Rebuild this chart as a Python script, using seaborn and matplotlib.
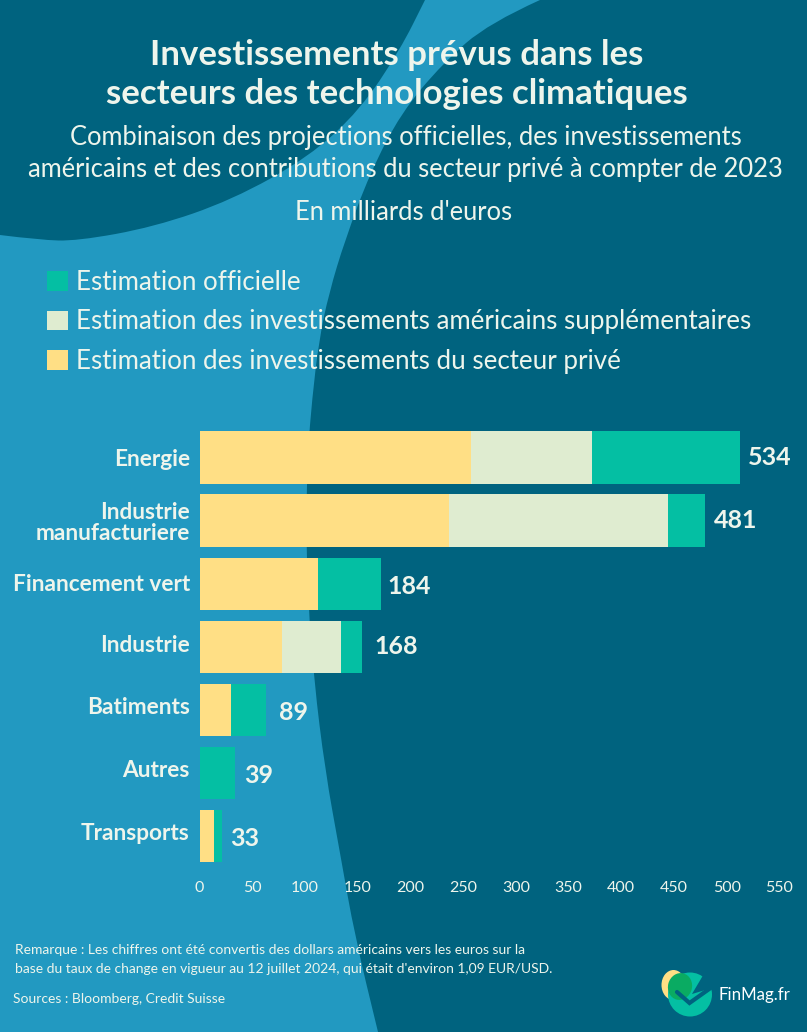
import numpy as np
import matplotlib
matplotlib.use('Agg')
import matplotlib.pyplot as plt
import seaborn as sns
from matplotlib.patches import Patch, PathPatch, Ellipse, Polygon
from matplotlib.path import Path
from matplotlib.transforms import ScaledTranslation

W, H = 807, 1032

categories = ['Energie', 'Industrie\nmanufacturiere', 'Financement vert', 'Industrie',
              'Batiments', 'Autres', 'Transports']
prive = [257, 237, 112, 78, 30, 0, 14]
americains = [115, 207, 0, 56, 0, 0, 0]
officielle = [141, 35, 60, 20, 33, 34, 7]
totals_labels = [534, 481, 184, 168, 89, 39, 33]
xticks = list(range(0, 551, 50))

DARK = '#00637F'
LIGHT = '#2299C1'
GREEN = '#04BFA3'
PALE = '#DFECD0'
YELLOW = '#FFDF85'
TEXT = '#EEF5EC'

sns.set_theme(style='white')
plt.rcParams['font.family'] = ['Lato', 'DejaVu Sans']

fig = plt.figure(figsize=(W / 100, H / 100), dpi=100, facecolor=DARK)


def smooth(pts):
    # quadratic curve through the midpoints of the outline
    pts = np.array(pts, dtype=float)
    verts = [pts[0]]
    codes = [Path.MOVETO]
    for a, b in zip(pts[1:-1], pts[2:]):
        verts += [a, (a + b) / 2]
        codes += [Path.CURVE3, Path.CURVE3]
    verts.append(pts[-1])
    codes.append(Path.LINETO)
    return verts, codes


# background shapes, in pixels
bg = fig.add_axes([0, 0, 1, 1], zorder=0)
bg.set_xlim(0, W)
bg.set_ylim(H, 0)
bg.axis('off')
right_edge = [(540, 0), (489, 23), (443, 63), (401, 113), (370, 173), (345, 240), (329, 293),
              (319, 340), (312, 400), (308, 450), (306, 520), (308, 600), (314, 680),
              (325, 770), (340, 853), (355, 937), (378, 1032)]
verts, codes = smooth(right_edge)
verts += [(0, H), (0, 235)]
codes += [Path.LINETO, Path.LINETO]
blob = [(0, 235), (40, 240), (77, 241), (154, 227), (232, 200), (309, 157), (360, 110), (400, 50), (425, 0)]
v2, c2 = smooth(blob)
verts += v2[1:] + [(540, 0), (540, 0)]
codes += c2[1:] + [Path.LINETO, Path.CLOSEPOLY]
bg.add_patch(PathPatch(Path(verts, codes), fc=LIGHT, ec='none'))

# logo
bg.add_patch(Ellipse((673.5, 985), 24, 30, fc=YELLOW, ec='none'))
bg.add_patch(Ellipse((690, 994.5), 44, 44, fc=GREEN, ec='none'))
bg.add_patch(Ellipse((680, 986.5), 24, 27, angle=15, fc='#0AAB62', ec='none'))
bg.add_patch(Polygon([(692, 994), (705, 972), (716, 972), (716, 986), (712, 988)], fc=DARK, ec='none'))
bg.plot([677, 689.5, 712], [992, 1003, 987], color=DARK, lw=3, solid_joinstyle='miter')
bg.text(718, 995, 'FinMag.fr', color='white', fontsize=12.2, va='center', ha='left', family='Lato')

# titles
title_kw = dict(color=TEXT, ha='center', va='center')
bg.text(397, 55, 'Investissements prévus dans les', fontsize=25, fontweight='bold', **title_kw)
bg.text(397, 94, 'secteurs des technologies climatiques', fontsize=25, fontweight='bold', **title_kw)
bg.text(405.5, 138, 'Combinaison des projections officielles, des investissements', fontsize=18.4, **title_kw)
bg.text(405.5, 170, 'américains et des contributions du secteur privé à compter de 2023', fontsize=18.4, **title_kw)
bg.text(404, 213, "En milliards d'euros", fontsize=18.4, **title_kw)

# chart area: 0 at px 199.5, 550 at px 779.5
left, right, top, bottom = 199.5, 779.5, 426, 867.5
ax = fig.add_axes([left / W, 1 - bottom / H, (right - left) / W, (bottom - top) / H], zorder=1)
ax.patch.set_alpha(0)

prive_a = np.array(prive)
am_a = np.array(americains)
off_a = np.array(officielle)
# stacked by drawing the cumulative totals, longest first
bar_kw = dict(y=categories, saturation=1, width=0.83, linewidth=0, edgecolor='none', ax=ax)
sns.barplot(x=prive_a + am_a + off_a, color=GREEN, **bar_kw)
sns.barplot(x=prive_a + am_a, color=PALE, **bar_kw)
sns.barplot(x=prive_a, color=YELLOW, **bar_kw)

ax.set_xlim(0, 550)
ax.set_ylim(6.5, -0.5)
ax.set_xticks(xticks)
ax.set_xlabel('')
ax.set_ylabel('')
sns.despine(ax=ax, left=True, bottom=True)
ax.tick_params(axis='x', length=0, pad=10, labelsize=11.5, labelcolor=TEXT)
ax.tick_params(axis='y', length=0, pad=7, labelsize=16.3, labelcolor=TEXT)

# category labels sit a little above the bar centre further down
label_dy = [0, 0, 1.5, 3, 4, 4.5, 4]
for lab, dy in zip(ax.get_yticklabels(), label_dy):
    lab.set_fontweight('bold')
    lab.set_linespacing(1.05)
    lab.set_transform(lab.get_transform() + ScaledTranslation(0, dy / 100, fig.dpi_scale_trans))

# totals, offsets in px
gap_x = [7, 9, 7, 13, 13, 8.5, 8.5]
gap_y = [0, 0, -2.5, 0, -3, -2.5, -3]
for i, val in enumerate(totals_labels):
    end = prive[i] + americains[i] + officielle[i]
    ax.annotate(str(val), (end, i), xytext=(gap_x[i] * 0.72, gap_y[i] * 0.72), textcoords='offset points',
                color=TEXT, fontsize=18, fontweight='bold', va='center', ha='left')

# legend
handles = [Patch(fc=GREEN, ec='none'), Patch(fc=PALE, ec='none'), Patch(fc=YELLOW, ec='none')]
names = ['Estimation officielle', 'Estimation des investissements américains supplémentaires',
         'Estimation des investissements du secteur privé']
leg = fig.legend(handles, names, loc='upper left', bbox_to_anchor=(47 / W, 1 - 270 / H), frameon=False,
                 fontsize=18.6, labelcolor=TEXT, handlelength=0.8, handleheight=0.8, handletextpad=0.34,
                 labelspacing=0.56, borderpad=0, borderaxespad=0)

# notes
bg.text(15, 950, 'Remarque : Les chiffres ont été convertis des dollars américains vers les euros sur la',
        color=TEXT, fontsize=10, va='center')
bg.text(15, 969, "base du taux de change en vigueur au 12 juillet 2024, qui était d'environ 1,09 EUR/USD.",
        color=TEXT, fontsize=10, va='center')
bg.text(13, 999, 'Sources : Bloomberg, Credit Suisse', color=TEXT, fontsize=10, va='center')

fig.savefig('out.png', dpi=100, facecolor=DARK)
